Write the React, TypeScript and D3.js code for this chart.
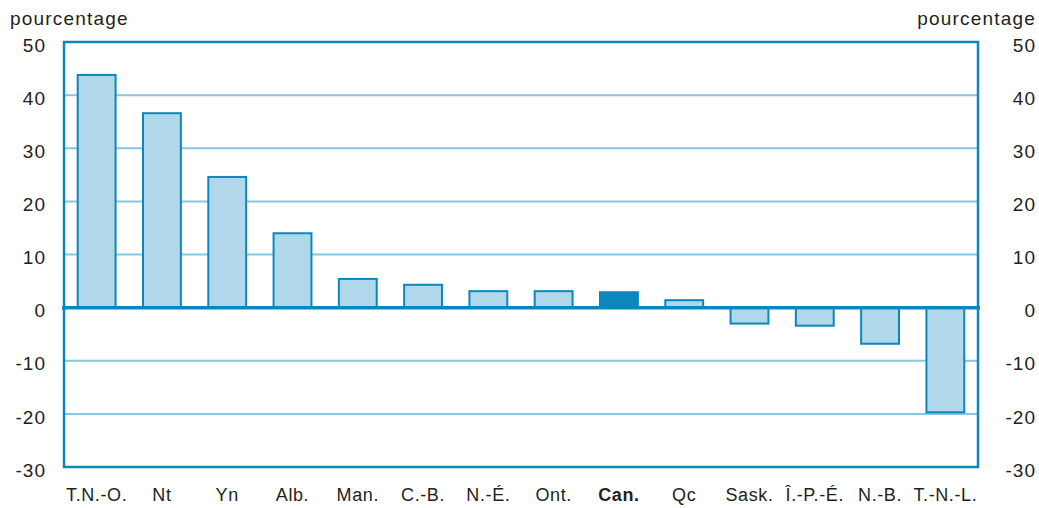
import React from "react";
import * as d3 from "d3";

const categories = ["T.N.-O.", "Nt", "Yn", "Alb.", "Man.", "C.-B.", "N.-É.", "Ont.", "Can.", "Qc", "Sask.", "Î.-P.-É.", "N.-B.", "T.-N.-L."];
const values = [43.8, 36.6, 24.6, 14.0, 5.4, 4.3, 3.1, 3.1, 2.9, 1.4, -3.0, -3.4, -6.8, -19.7];
const highlight = ["Can."];
const yTicks = [50, 40, 30, 20, 10, 0, -10, -20, -30];
const axisTitle = "pourcentage";

const W = 1039;
const H = 508;
const left = 64;
const right = 978;
const top = 42;
const bottom = 467;

const frame = "#0a88bb";
const grid = "#86c6e0";
const fill = "#b1d8ea";
const font = "'Liberation Sans Narrow', 'Liberation Sans', Arial, sans-serif";

export default function App() {
  const x = d3.scaleBand<string>().domain(categories).range([left, right]).paddingInner(0.42).paddingOuter(0.21);
  const y = d3.scaleLinear().domain([-30, 50]).range([bottom, top]);
  return (
    <svg width={W} height={H} style={{ position: "absolute", left: 0, top: 0 }}>
      <rect x={0} y={0} width={W} height={H} fill="#fff" />
      {yTicks.filter((t) => t !== 0 && t !== 50 && t !== -30).map((t) => (
        <line key={t} x1={left} x2={right} y1={y(t)} y2={y(t)} stroke={grid} strokeWidth={2} />
      ))}
      {categories.map((c, i) => {
        const v = values[i];
        const y0 = y(Math.max(0, v));
        const y1 = y(Math.min(0, v));
        const hl = highlight.includes(c);
        return (
          <rect key={c} x={x(c)!} y={y0} width={x.bandwidth()} height={y1 - y0}
            fill={hl ? frame : fill} stroke={frame} strokeWidth={2} />
        );
      })}
      <rect x={left} y={top} width={right - left} height={bottom - top} fill="none" stroke={frame} strokeWidth={2.5} />
      <line x1={left - 2} x2={right + 2} y1={y(0)} y2={y(0)} stroke={frame} strokeWidth={3.5} />
      {yTicks.map((t) => (
        <g key={t} fontFamily={font} fontSize={19} fill="#231f20" letterSpacing={1}>
          <text x={46} y={y(t) + 3} dy="0.35em" textAnchor="end">{t}</text>
          <text x={1036} y={y(t) + 3} dy="0.35em" textAnchor="end">{t}</text>
        </g>
      ))}
      <text x={10} y={25} fontFamily={font} fontSize={19} fill="#231f20" letterSpacing={1.2}>{axisTitle}</text>
      <text x={1036} y={25} fontFamily={font} fontSize={19} fill="#231f20" letterSpacing={1.2} textAnchor="end">{axisTitle}</text>
      {categories.map((c) => (
        <text key={c} x={x(c)! + x.bandwidth() / 2} y={501} textAnchor="middle" fontFamily={font} fontSize={18}
          fill="#231f20" letterSpacing={0.6} fontWeight={highlight.includes(c) ? "bold" : "normal"}>{c}</text>
      ))}
    </svg>
  );
}
